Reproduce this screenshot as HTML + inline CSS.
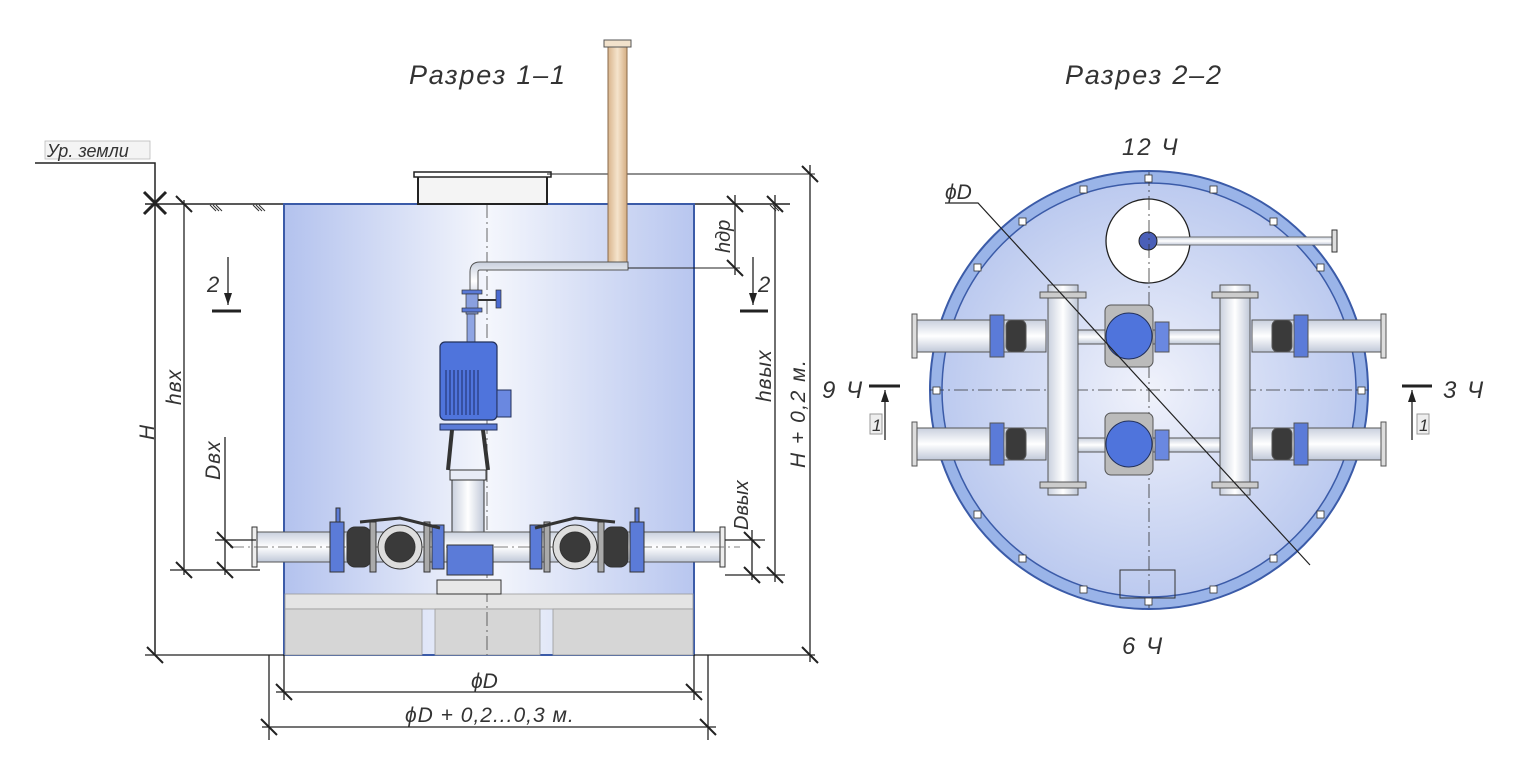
<!DOCTYPE html>
<html><head><meta charset="utf-8"><style>
html,body{margin:0;padding:0;background:#fff;}
svg{display:block}
text{font-family:"Liberation Sans","DejaVu Sans",sans-serif;font-style:italic;fill:#333}
</style></head><body>
<svg width="1514" height="757" viewBox="0 0 1514 757" xmlns="http://www.w3.org/2000/svg">
<defs>
<linearGradient id="tank" x1="0" x2="1" y1="0" y2="0">
<stop offset="0" stop-color="#b3c2ee"/><stop offset="0.5" stop-color="#f4f6fc"/><stop offset="1" stop-color="#b8c6ef"/>
</linearGradient>
<radialGradient id="circ" cx="0.5" cy="0.5" r="0.5">
<stop offset="0" stop-color="#f0f2fb"/><stop offset="1" stop-color="#bccaef"/>
</radialGradient>
<linearGradient id="pipe" x1="0" x2="0" y1="0" y2="1">
<stop offset="0" stop-color="#c9d0de"/><stop offset="0.5" stop-color="#ffffff"/><stop offset="1" stop-color="#c0c8d8"/>
</linearGradient>
<linearGradient id="vpipe" x1="0" x2="1" y1="0" y2="0">
<stop offset="0" stop-color="#c9d0de"/><stop offset="0.5" stop-color="#ffffff"/><stop offset="1" stop-color="#c0c8d8"/>
</linearGradient>
<linearGradient id="tan" x1="0" x2="1"><stop offset="0" stop-color="#d8b48c"/><stop offset="0.5" stop-color="#f5e4cc"/><stop offset="1" stop-color="#d4ad82"/></linearGradient>
</defs>

<!-- titles -->
<text x="409" y="84" font-size="27" letter-spacing="1.8">Разрез 1–1</text>
<text x="1065" y="84" font-size="27" letter-spacing="1.8">Разрез 2–2</text>

<!-- ground label -->
<rect x="45" y="141" width="105" height="18" fill="#f4f4f4" stroke="#bbb" stroke-width="0.8"/>
<text x="47" y="157" font-size="18">Ур. земли</text>
<polyline points="35,163 155,163 155,655" fill="none" stroke="#222" stroke-width="1.5"/>
<path d="M144,192 L166,214 M144,214 L166,192" stroke="#222" stroke-width="3"/>
<line x1="145" y1="204" x2="790" y2="204" stroke="#222" stroke-width="1.5"/>
<g stroke="#333" stroke-width="1">
<path d="M210,205 l6,6 M213,205 l6,6 M216,205 l6,6 M253,205 l6,6 M256,205 l6,6 M259,205 l6,6 M770,205 l6,6 M773,205 l6,6 M776,205 l6,6"/>
</g>

<!-- tank -->
<rect x="284" y="204" width="410" height="451" fill="url(#tank)" stroke="#3b5ba8" stroke-width="2"/>
<rect x="285" y="594" width="408" height="15" fill="#e4e4e4" stroke="#999" stroke-width="0.8"/>
<rect x="285" y="609" width="137" height="46" fill="#d6d6d6" stroke="#999" stroke-width="0.8"/>
<rect x="435" y="609" width="105" height="46" fill="#d6d6d6" stroke="#999" stroke-width="0.8"/>
<rect x="553" y="609" width="140" height="46" fill="#d6d6d6" stroke="#999" stroke-width="0.8"/>
<line x1="487" y1="204" x2="487" y2="655" stroke="#444" stroke-width="0.8" stroke-dasharray="14,4,2,4"/>
<!-- hatch lid -->
<rect x="418" y="174" width="129" height="30" fill="#f4f4f4" stroke="#222" stroke-width="2"/>
<rect x="414" y="172" width="137" height="5" fill="#fff" stroke="#222" stroke-width="1.5"/>
<line x1="547" y1="174" x2="815" y2="174" stroke="#222" stroke-width="1"/>
<!-- vent pipe -->
<rect x="608" y="46" width="19" height="222" fill="url(#tan)" stroke="#8a6a4a" stroke-width="1"/>
<rect x="604" y="40" width="27" height="7" fill="#f2e2cc" stroke="#555"/>
<path d="M470,300 L470,272 Q470,262 480,262 L628,262 L628,270 L480,270 Q478,270 478,272 L478,300 Z" fill="url(#pipe)" stroke="#555" stroke-width="1"/>
<line x1="628" y1="268" x2="740" y2="268" stroke="#222" stroke-width="1"/>
<!-- valves on riser -->
<rect x="462" y="290" width="20" height="4" fill="#5a7ad8" stroke="#333" stroke-width="0.7"/>
<rect x="466" y="294" width="12" height="20" fill="#8aa0e0" stroke="#333" stroke-width="0.7"/>
<rect x="462" y="308" width="20" height="4" fill="#5a7ad8" stroke="#333" stroke-width="0.7"/>
<line x1="478" y1="300" x2="498" y2="300" stroke="#333" stroke-width="2"/>
<rect x="496" y="290" width="5" height="18" fill="#4a6ad0" stroke="#333" stroke-width="0.7"/>
<rect x="467" y="314" width="8" height="28" fill="#8fa5e3" stroke="#333" stroke-width="0.7"/>
<!-- motor -->
<rect x="440" y="342" width="57" height="78" rx="5" fill="#4f74dc" stroke="#22305a" stroke-width="1.2"/>
<g stroke="#1d2d66" stroke-width="1">
<line x1="446" y1="370" x2="446" y2="415"/><line x1="450" y1="370" x2="450" y2="415"/><line x1="454" y1="370" x2="454" y2="415"/><line x1="458" y1="370" x2="458" y2="415"/><line x1="462" y1="370" x2="462" y2="415"/><line x1="466" y1="370" x2="466" y2="415"/><line x1="470" y1="370" x2="470" y2="415"/><line x1="474" y1="370" x2="474" y2="415"/><line x1="478" y1="370" x2="478" y2="415"/>
</g>
<rect x="497" y="390" width="14" height="27" fill="#6a88e0" stroke="#22305a"/>
<rect x="440" y="424" width="57" height="6" fill="#5b7bd8" stroke="#22305a"/>
<path d="M452,430 L448,470 M483,430 L488,470" stroke="#333" stroke-width="4"/>
<rect x="450" y="470" width="36" height="10" fill="#e8ecf6" stroke="#333"/>
<rect x="452" y="480" width="32" height="85" fill="url(#vpipe)" stroke="#333"/>
<!-- pipes horizontal -->
<rect x="256" y="532" width="468" height="30" fill="url(#pipe)" stroke="#555" stroke-width="1"/>
<rect x="252" y="527" width="5" height="40" fill="#eee" stroke="#333"/>
<rect x="720" y="527" width="5" height="40" fill="#eee" stroke="#333"/>
<line x1="230" y1="547" x2="740" y2="547" stroke="#555" stroke-width="0.8" stroke-dasharray="14,4,2,4"/>
<!-- pump base -->
<rect x="447" y="545" width="46" height="30" fill="#5b7bd8" stroke="#333"/>
<rect x="437" y="580" width="64" height="14" fill="#e8e8e8" stroke="#333"/>
<!-- fittings -->
<g stroke="#333" stroke-width="1">
<rect x="330" y="522" width="14" height="50" fill="#5b7bd8"/>
<rect x="336" y="508" width="4" height="14" fill="#5b7bd8"/>
<rect x="347" y="527" width="24" height="40" rx="8" fill="#3a3a3a"/>
<rect x="370" y="522" width="6" height="50" fill="#aaa"/>
<circle cx="400" cy="547" r="22" fill="#ddd"/>
<circle cx="400" cy="547" r="15" fill="#3a3a3a"/>
<rect x="424" y="522" width="6" height="50" fill="#aaa"/>
<rect x="432" y="525" width="12" height="44" fill="#5b7bd8"/>
<path d="M360,522 L400,518 L440,528" fill="none" stroke-width="3"/>
<rect x="530" y="525" width="12" height="44" fill="#5b7bd8"/>
<rect x="544" y="522" width="6" height="50" fill="#aaa"/>
<circle cx="575" cy="547" r="22" fill="#ddd"/>
<circle cx="575" cy="547" r="15" fill="#3a3a3a"/>
<rect x="598" y="522" width="6" height="50" fill="#aaa"/>
<rect x="604" y="527" width="24" height="40" rx="8" fill="#3a3a3a"/>
<rect x="630" y="522" width="14" height="50" fill="#5b7bd8"/>
<rect x="635" y="508" width="4" height="14" fill="#5b7bd8"/>
<path d="M535,528 L575,518 L615,522" fill="none" stroke-width="3"/>
</g>

<!-- dimensions left -->
<g stroke="#222" stroke-width="1.3" fill="none">
<line x1="184" y1="200" x2="184" y2="575"/>
<line x1="170" y1="570" x2="260" y2="570"/>
<line x1="225" y1="437" x2="225" y2="575"/>
<line x1="215" y1="540" x2="256" y2="540"/>
<line x1="145" y1="655" x2="284" y2="655"/>
<line x1="694" y1="655" x2="815" y2="655"/>
<line x1="212" y1="311" x2="241" y2="311" stroke-width="3"/>
<line x1="228" y1="257" x2="228" y2="305"/>
<line x1="740" y1="311" x2="768" y2="311" stroke-width="3"/>
<line x1="753" y1="257" x2="753" y2="305"/>
<line x1="735" y1="195" x2="735" y2="275"/>
<line x1="775" y1="195" x2="775" y2="582"/>
<line x1="810" y1="165" x2="810" y2="662"/>
<line x1="752" y1="530" x2="752" y2="580"/>
<line x1="725" y1="540" x2="765" y2="540"/>
<line x1="725" y1="575" x2="785" y2="575"/>
<line x1="269" y1="655" x2="269" y2="740"/>
<line x1="708" y1="655" x2="708" y2="740"/>
<line x1="284" y1="655" x2="284" y2="700"/>
<line x1="694" y1="655" x2="694" y2="700"/>
<line x1="276" y1="692" x2="702" y2="692"/>
<line x1="262" y1="727" x2="716" y2="727"/>
</g>
<path d="M228,305 l-4,-12 h8 Z M753,305 l-4,-12 h8 Z" fill="#222"/>
<g stroke="#222" stroke-width="2">
<path d="M176,196 l16,16 M176,562 l16,16 M217,532 l16,16 M217,562 l16,16 M147,647 l16,16 M727,196 l16,16 M727,260 l16,16 M767,196 l16,16 M767,567 l16,16 M744,532 l16,16 M744,567 l16,16 M802,166 l16,16 M802,647 l16,16 M276,684 l16,16 M686,684 l16,16 M261,719 l16,16 M700,719 l16,16"/>
</g>
<text x="207" y="292" font-size="22">2</text>
<text x="758" y="292" font-size="22">2</text>
<text font-size="21" transform="translate(154,440) rotate(-90)">H</text>
<text font-size="21" transform="translate(181,405) rotate(-90)" letter-spacing="1">hвх</text>
<text font-size="21" transform="translate(220,480) rotate(-90)" letter-spacing="1">Dвх</text>
<text font-size="20" transform="translate(730,253) rotate(-90)">hдр</text>
<text font-size="21" transform="translate(771,402) rotate(-90)" letter-spacing="1">hвых</text>
<text font-size="21" transform="translate(805,468) rotate(-90)" letter-spacing="1.5">H + 0,2 м.</text>
<text font-size="20" transform="translate(748,530) rotate(-90)">Dвых</text>
<text x="471" y="688" font-size="21">ϕD</text>
<text x="405" y="722" font-size="21" letter-spacing="1">ϕD + 0,2...0,3 м.</text>

<!-- right circle -->
<circle cx="1149" cy="390" r="219" fill="#9ab4e8" stroke="#3b5ba8" stroke-width="2"/>
<circle cx="1149" cy="390" r="207" fill="url(#circ)" stroke="#3b5ba8" stroke-width="1.5"/>
<circle cx="1148" cy="241" r="42" fill="#fff" stroke="#222" stroke-width="1.3"/>
<rect x="1150" y="237" width="182" height="8" fill="url(#pipe)" stroke="#555" stroke-width="0.8"/>
<rect x="1332" y="230" width="5" height="22" fill="#ddd" stroke="#333"/>
<circle cx="1148" cy="241" r="9" fill="#4a5fb8" stroke="#222"/>
<line x1="1149" y1="172" x2="1149" y2="608" stroke="#333" stroke-width="0.8" stroke-dasharray="14,4,2,4"/>
<line x1="930" y1="390" x2="1368" y2="390" stroke="#333" stroke-width="0.8" stroke-dasharray="14,4,2,4"/>
<g stroke="#555" stroke-width="1">
<rect x="916" y="320" width="130" height="32" fill="url(#pipe)"/>
<rect x="916" y="428" width="130" height="32" fill="url(#pipe)"/>
<rect x="1252" y="320" width="130" height="32" fill="url(#pipe)"/>
<rect x="1252" y="428" width="130" height="32" fill="url(#pipe)"/>
<rect x="912" y="314" width="5" height="44" fill="#ddd"/>
<rect x="912" y="422" width="5" height="44" fill="#ddd"/>
<rect x="1381" y="314" width="5" height="44" fill="#ddd"/>
<rect x="1381" y="422" width="5" height="44" fill="#ddd"/>
<rect x="1048" y="285" width="30" height="210" fill="url(#vpipe)"/>
<rect x="1220" y="285" width="30" height="210" fill="url(#vpipe)"/>
<rect x="1040" y="292" width="46" height="6" fill="#ccc"/>
<rect x="1040" y="482" width="46" height="6" fill="#ccc"/>
<rect x="1212" y="292" width="46" height="6" fill="#ccc"/>
<rect x="1212" y="482" width="46" height="6" fill="#ccc"/>
<rect x="1078" y="330" width="142" height="14" fill="url(#pipe)"/>
<rect x="1078" y="438" width="142" height="14" fill="url(#pipe)"/>
<rect x="1105" y="305" width="48" height="62" rx="6" fill="#bbb"/>
<circle cx="1129" cy="336" r="23" fill="#4f74dc" stroke="#22305a"/>
<rect x="1155" y="322" width="14" height="30" fill="#6a88e0"/>
<rect x="1105" y="413" width="48" height="62" rx="6" fill="#bbb"/>
<circle cx="1129" cy="444" r="23" fill="#4f74dc" stroke="#22305a"/>
<rect x="1155" y="430" width="14" height="30" fill="#6a88e0"/>
<rect x="990" y="315" width="14" height="42" fill="#5b7bd8"/>
<rect x="1006" y="320" width="20" height="32" rx="6" fill="#3a3a3a"/>
<rect x="990" y="423" width="14" height="42" fill="#5b7bd8"/>
<rect x="1006" y="428" width="20" height="32" rx="6" fill="#3a3a3a"/>
<rect x="1272" y="320" width="20" height="32" rx="6" fill="#3a3a3a"/>
<rect x="1294" y="315" width="14" height="42" fill="#5b7bd8"/>
<rect x="1272" y="428" width="20" height="32" rx="6" fill="#3a3a3a"/>
<rect x="1294" y="423" width="14" height="42" fill="#5b7bd8"/>
<rect x="1120" y="570" width="55" height="28" fill="none" stroke="#333"/>
</g>
<g fill="#fff" stroke="#333" stroke-width="0.8">
<rect x="1145" y="175" width="7" height="7"/><rect x="1145" y="598" width="7" height="7"/>
<rect x="933" y="387" width="7" height="7"/><rect x="1358" y="387" width="7" height="7"/>
<rect x="1080" y="186" width="7" height="7"/><rect x="1210" y="186" width="7" height="7"/>
<rect x="1019" y="218" width="7" height="7"/><rect x="1270" y="218" width="7" height="7"/>
<rect x="974" y="264" width="7" height="7"/><rect x="1317" y="264" width="7" height="7"/>
<rect x="974" y="511" width="7" height="7"/><rect x="1317" y="511" width="7" height="7"/>
<rect x="1019" y="555" width="7" height="7"/><rect x="1270" y="555" width="7" height="7"/>
<rect x="1080" y="586" width="7" height="7"/><rect x="1210" y="586" width="7" height="7"/>
</g>
<polyline points="945,203 978,203 1310,565" fill="none" stroke="#222" stroke-width="1.2"/>
<text x="945" y="199" font-size="21">ϕD</text>
<text x="1122" y="155" font-size="24" letter-spacing="2">12 Ч</text>
<text x="1122" y="654" font-size="24" letter-spacing="2">6 Ч</text>
<text x="822" y="398" font-size="24" letter-spacing="2">9 Ч</text>
<text x="1443" y="398" font-size="24" letter-spacing="2">3 Ч</text>
<g stroke="#222" stroke-width="1.3">
<line x1="869" y1="386" x2="900" y2="386" stroke-width="3"/>
<line x1="885" y1="390" x2="885" y2="440"/>
<line x1="1402" y1="386" x2="1432" y2="386" stroke-width="3"/>
<line x1="1412" y1="390" x2="1412" y2="440"/>
</g>
<path d="M885,390 l-4,12 h8 Z M1412,390 l-4,12 h8 Z" fill="#222"/>
<rect x="870" y="414" width="12" height="20" fill="#eee" stroke="#999"/>
<text x="872" y="431" font-size="17">1</text>
<rect x="1417" y="414" width="12" height="20" fill="#eee" stroke="#999"/>
<text x="1419" y="431" font-size="17">1</text>
</svg>
</body></html>
